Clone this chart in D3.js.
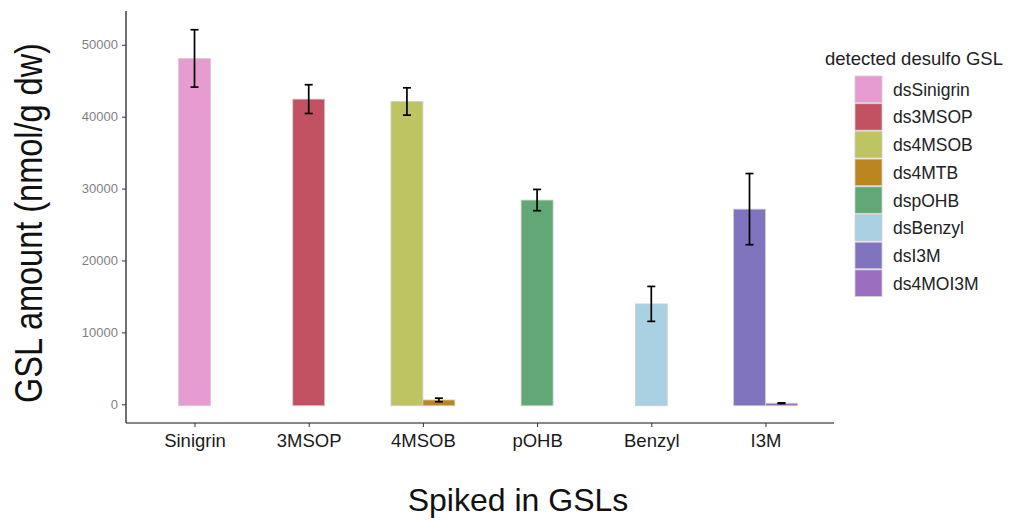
<!DOCTYPE html>
<html lang="en">
<head>
<meta charset="UTF-8">
<script src="https://d3js.org/d3.v7.min.js"></script>
<title>Spiked in GSLs</title>
<style>
    body { margin: 0; background: white; }
    svg { display: block; font-family: "Liberation Sans", Arial, sans-serif; }
</style>
</head>
<body>
<svg id="chart"></svg>
<script>
// spiked-in compound on the x axis
const spiked = ["Sinigrin", "3MSOP", "4MSOB", "pOHB", "Benzyl", "I3M"];
// detected desulfo GSLs (legend order)
const detected = ["dsSinigrin", "ds3MSOP", "ds4MSOB", "ds4MTB", "dspOHB", "dsBenzyl", "dsI3M", "ds4MOI3M"];
const detectedColors = ["#e79cd1", "#c25262", "#bfc463", "#bb8620", "#62a877", "#aad1e1", "#8174bf", "#9b6dbf"];
// one row per bar
const barSpiked   = ["Sinigrin", "3MSOP", "4MSOB", "4MSOB", "pOHB", "Benzyl", "I3M", "I3M"];
const barDetected = ["dsSinigrin", "ds3MSOP", "ds4MSOB", "ds4MTB", "dspOHB", "dsBenzyl", "dsI3M", "ds4MOI3M"];
const barMean     = [48100, 42440, 42110, 600, 28400, 13960, 27140, 150];
const barErr      = [3990, 2000, 1900, 250, 1480, 2430, 4950, 50];
const yTicks = [0, 10000, 20000, 30000, 40000, 50000];

const w = 1016, h = 522;
const svg = d3.select("#chart").attr("width", w).attr("height", h);

const pLeft = 126, pRight = 834, pTop = 11, pBottom = 423;

const bars = barMean.map((m, i) => ({
    spiked: barSpiked[i], detected: barDetected[i], mean: m, err: barErr[i]
}));

const x = d3.scalePoint().domain(spiked).range([pLeft, pRight]).padding(0.6);
const barW = x.step() * 0.28;

const maxTop = d3.max(bars, d => d.mean + d.err);
const y = d3.scaleLinear().domain([-maxTop * 0.05, maxTop * 1.05]).range([pBottom, pTop]);

const color = d3.scaleOrdinal().domain(detected).range(detectedColors);

// dodge bars that share a category
bars.forEach(d => {
    const group = bars.filter(b => b.spiked === d.spiked);
    const k = group.indexOf(d);
    d.cx = x(d.spiked) + (k - (group.length - 1) / 2) * barW;
});

svg.selectAll("rect.bar")
    .data(bars)
    .enter()
    .append("rect")
    .attr("class", "bar")
    .attr("x", d => d.cx - barW / 2)
    .attr("y", d => y(d.mean))
    .attr("width", barW)
    .attr("height", d => y(0) - y(d.mean) + 1.5)
    .style("fill", d => color(d.detected))
    .style("stroke", "#d0d0d0")
    .style("stroke-width", 0.8);

// error bars
const eb = svg.selectAll("g.err")
    .data(bars)
    .enter()
    .append("g")
    .attr("class", "err")
    .style("stroke", "#000")
    .style("stroke-width", 1.7);
eb.append("line")
    .attr("x1", d => d.cx).attr("x2", d => d.cx)
    .attr("y1", d => y(d.mean - d.err)).attr("y2", d => y(d.mean + d.err));
eb.append("line")
    .attr("x1", d => d.cx - 4).attr("x2", d => d.cx + 4)
    .attr("y1", d => y(d.mean + d.err)).attr("y2", d => y(d.mean + d.err));
eb.append("line")
    .attr("x1", d => d.cx - 4).attr("x2", d => d.cx + 4)
    .attr("y1", d => y(d.mean - d.err)).attr("y2", d => y(d.mean - d.err));

// axes
const yAxis = d3.axisLeft(y).tickValues(yTicks).tickFormat(d3.format("d")).tickSize(4).tickPadding(4);
const gy = svg.append("g").attr("transform", "translate(" + pLeft + ",0)").call(yAxis);
gy.select(".domain").attr("d", "M0," + pTop + "V" + pBottom).style("stroke", "#111").style("stroke-width", 1.2);
gy.selectAll(".tick line").style("stroke", "#333");
gy.selectAll(".tick text").style("font-size", "13px").style("fill", "#7f7f7f")
    .style("font-family", "'Liberation Sans', Arial, sans-serif");

const xAxis = d3.axisBottom(x).tickSize(4).tickPadding(7);
const gx = svg.append("g").attr("transform", "translate(0," + pBottom + ")").call(xAxis);
gx.select(".domain").attr("d", "M" + pLeft + ",0H" + pRight).style("stroke", "#111").style("stroke-width", 1.2);
gx.selectAll(".tick line").style("stroke", "#333");
gx.selectAll(".tick text").style("font-size", "18.5px").style("fill", "#1a1a1a")
    .style("font-family", "'Liberation Sans', Arial, sans-serif");

// axis titles
svg.append("text")
    .attr("x", 518).attr("y", 511)
    .attr("text-anchor", "middle")
    .style("font-size", "32px").style("fill", "#111")
    .text("Spiked in GSLs");
svg.append("text")
    .attr("transform", "translate(42,223) rotate(-90) scale(1,1.2)")
    .attr("text-anchor", "middle")
    .style("font-size", "32.5px").style("fill", "#111")
    .text("GSL amount (nmol/g dw)");

// legend
const legend = svg.append("g").attr("transform", "translate(855,76)");
legend.append("text")
    .attr("x", -30).attr("y", -11)
    .style("font-size", "18.5px").style("fill", "#222")
    .text("detected desulfo GSL");
const keyStep = 27.7;
const item = legend.selectAll("g.key")
    .data(detected)
    .enter()
    .append("g")
    .attr("class", "key")
    .attr("transform", (d, i) => "translate(0," + i * keyStep + ")");
item.append("rect")
    .attr("width", 27).attr("height", 26.5)
    .style("fill", d => color(d))
    .style("stroke", "#d0d0d0").style("stroke-width", 0.8);
item.append("text")
    .attr("x", 38).attr("y", 13.5).attr("dy", "0.36em")
    .style("font-size", "17.5px").style("fill", "#222")
    .text(d => d);
</script>
</body>
</html>
